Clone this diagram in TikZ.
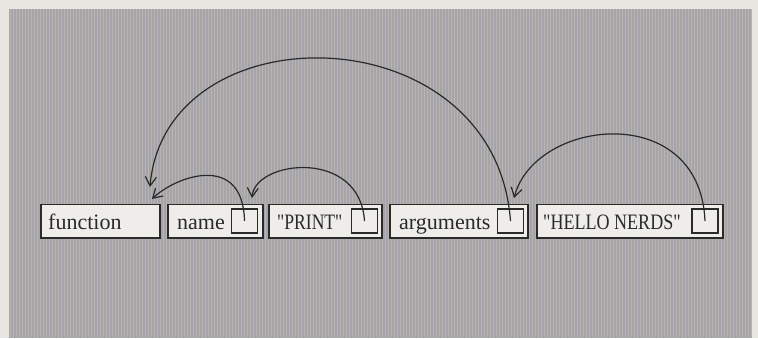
\documentclass[tikz,border=0pt]{standalone}
\usepackage{fontspec}
\newfontfamily\lblfont{Liberation Serif}
\usetikzlibrary{arrows.meta}
\definecolor{pagecol}{HTML}{E8E6E0}
\definecolor{panelcol}{HTML}{A4A4AA}
\definecolor{stripecol}{HTML}{B9B5AD}
\definecolor{boxfill}{HTML}{EEEDEA}
\definecolor{inkcol}{HTML}{2A2A2A}
\tikzset{
  cell/.style={draw=inkcol, line width=1.5pt, fill=boxfill, inner sep=0pt, minimum height=33.5pt},
  ptr/.style={draw=inkcol, line width=1.3pt, fill=boxfill, inner sep=0pt, minimum width=26pt, minimum height=24pt},
  lbl/.style={anchor=base west, inner sep=0pt, text=inkcol, font=\lblfont\fontsize{22}{26}\selectfont},
  link/.style={draw=inkcol, line width=1.2pt, -{Straight Barb[length=9pt,width=11pt,line width=1.2pt]}}
}
\begin{document}
\begin{tikzpicture}[x=1pt,y=-1pt]
\useasboundingbox (0,0) rectangle (758,338);
\fill[pagecol] (0,0) rectangle (758,338);
\fill[panelcol] (9,9) rectangle (752,338);
\foreach \s in {10,13,...,751} \draw[stripecol, line width=1pt] (\s,9) -- (\s,338);
% cells
\node[cell, minimum width=119pt] (fn) at (100.5,221.3) {};
\node[cell, minimum width=95pt]  (nm) at (215.5,221.3) {};
\node[cell, minimum width=113pt] (pr) at (325.5,221.3) {};
\node[cell, minimum width=138pt] (ar) at (459,221.3) {};
\node[cell, minimum width=186pt] (he) at (630,221.3) {};
% pointer squares
\node[ptr] (nmp) at (244.5,221) {};
\node[ptr] (prp) at (364.5,221) {};
\node[ptr] (arp) at (510.5,221) {};
\node[ptr] (hep) at (705,221) {};
% labels
\node[lbl] (tfn) at (48,229) {function};
\node[lbl] (tnm) at (177,229) {name};
\node[lbl] (tpr) at (277,229) {\scalebox{0.8}[1]{"PRINT"}};
\node[lbl] (tar) at (399,229) {arguments};
\node[lbl] (the) at (543,229) {\scalebox{0.82}[1]{"HELLO NERDS"}};
% arrow targets
\coordinate (fnA) at (150,187);
\coordinate (fnB) at (152,199);
\coordinate (nmT) at (252,198);
\coordinate (arT) at (514,198);
% connectors
\draw[link] (arp.center) .. controls (495,12) and (165,8) .. (fnA);
\draw[link] (nmp.center) .. controls (243,152) and (176,176) .. (fnB);
\draw[link] (prp.center) .. controls (360,148) and (255,160) .. (nmT);
\draw[link] (hep.center) .. controls (700,100) and (535,118) .. (arT);
\end{tikzpicture}
\end{document}
